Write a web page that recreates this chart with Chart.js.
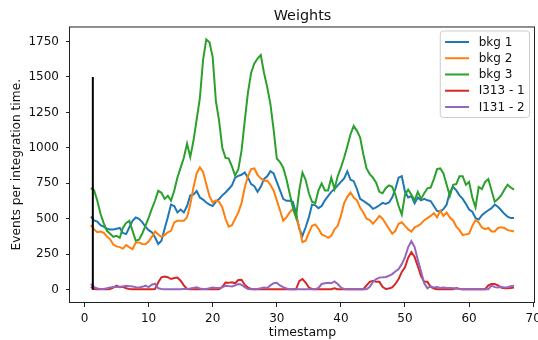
<!DOCTYPE html>
<html>
<head>
<meta charset="utf-8">
<script src="https://cdn.jsdelivr.net/npm/chart.js@4.4.1/dist/chart.umd.min.js"></script>
<style>
  html, body { margin: 0; padding: 0; background: #fff; }
  canvas { display: block; }
</style>
</head>
<body>
<canvas id="chart" width="538" height="340"></canvas>
<script>
// Sample times (x) shared by every series
const timestamps = [
  1, 1.5, 2, 2.5, 3, 3.5, 4, 4.5, 5, 5.5,
  6, 6.5, 7, 7.5, 8, 8.5, 9, 9.5, 10, 10.5,
  11, 11.5, 12, 12.5, 13, 13.5, 14, 14.5, 15, 15.5,
  16, 16.5, 17, 17.5, 18, 18.5, 19, 19.5, 20, 20.5,
  21, 21.5, 22, 22.5, 23, 23.5, 24, 24.5, 25, 25.5,
  26, 26.5, 27, 27.5, 28, 28.5, 29, 29.5, 30, 30.5,
  31, 31.5, 32, 32.5, 33, 33.5, 34, 34.5, 35, 35.5,
  36, 36.5, 37, 37.5, 38, 38.5, 39, 39.5, 40, 40.5,
  41, 41.5, 42, 42.5, 43, 43.5, 44, 44.5, 45, 45.5,
  46, 46.5, 47, 47.5, 48, 48.5, 49, 49.5, 50, 50.5,
  51, 51.5, 52, 52.5, 53, 53.5, 54, 54.5, 55, 55.5,
  56, 56.5, 57, 57.5, 58, 58.5, 59, 59.5, 60, 60.5,
  61, 61.5, 62, 62.5, 63, 63.5, 64, 64.5, 65, 65.5,
  66, 66.5, 67
];

const bkg1 = [
  515, 488, 480, 455, 445, 430, 425, 425, 430, 435,
  400, 392, 440, 486, 509, 500, 476, 445, 420, 405,
  370, 322, 345, 430, 510, 600, 590, 545, 565, 545,
  590, 665, 670, 695, 650, 635, 615, 600, 590, 620,
  640, 665, 685, 710, 735, 790, 803, 810, 826, 790,
  744, 730, 690, 725, 780, 800, 835, 820, 760, 700,
  640, 627, 627, 620, 540, 430, 380, 440, 510, 600,
  595, 575, 590, 630, 660, 690, 710, 735, 760, 785,
  835, 775, 765, 710, 640, 627, 610, 595, 570, 580,
  595, 612, 605, 615, 650, 710, 790, 800, 690, 650,
  660, 610, 650, 630, 640, 630, 625, 590, 555, 550,
  568, 600, 690, 725, 700, 665, 640, 605, 565, 550,
  505, 495, 525, 544, 560, 575, 600, 585, 560, 535,
  515, 505, 505
];

const bkg2 = [
  455, 425, 405, 410, 400, 375, 355, 318, 305, 300,
  290, 315, 298, 286, 333, 333, 322, 320, 340, 372,
  410, 390, 372, 385, 405, 415, 474, 486, 486, 486,
  510, 600, 720, 820, 862, 830, 744, 660, 615, 630,
  620, 580, 500, 445, 455, 500, 545, 610, 720, 800,
  850, 855, 810, 785, 767, 770, 740, 700, 630, 560,
  486, 510, 545, 568, 515, 440, 335, 345, 400, 450,
  460, 430, 390, 380, 365, 380, 425, 450, 520, 610,
  655, 685, 650, 630, 579, 544, 500, 490, 465, 490,
  520, 500, 465, 430, 395, 415, 465, 475, 450, 425,
  410, 440, 450, 465, 490, 505, 520, 540, 510, 556,
  521, 544, 509, 488, 445, 420, 385, 390, 395, 450,
  490, 474, 439, 427, 435, 410, 410, 435, 440, 435,
  420, 415, 410
];

const bkg3 = [
  718, 700, 627, 535, 470, 415, 394, 373, 380, 366,
  437, 470, 485, 415, 345, 352, 394, 450, 507, 570,
  627, 697, 683, 640, 662, 627, 697, 791, 861, 930,
  1030, 935, 1050, 1200, 1350, 1620, 1765, 1745, 1640, 1330,
  1190, 1000, 930, 925, 870, 805, 850, 980, 1190, 1390,
  1530, 1595, 1630, 1655, 1530, 1430, 1310, 1130, 925, 900,
  860, 780, 680, 580, 510, 700, 826, 775, 680, 620,
  610, 700, 750, 700, 700, 790, 710, 800, 860, 930,
  1010, 1096, 1155, 1120, 1072, 955, 855, 815, 790, 755,
  690, 680, 715, 735, 725, 670, 590, 530, 670, 705,
  670, 630, 690, 640, 680, 715, 720, 780, 850, 855,
  820, 740, 660, 740, 745, 800, 800, 740, 760, 650,
  580, 725, 710, 760, 780, 700, 620, 640, 665, 705,
  740, 720, 705
];

const i313 = [
  20, 5, 3, 3, 3, 3, 5, 15, 28, 18,
  20, 10, 5, 3, 3, 3, 3, 3, 3, 3,
  5, 50, 87, 92, 88, 75, 82, 85, 63, 30,
  5, 3, 3, 3, 3, 3, 3, 3, 3, 3,
  3, 20, 50, 48, 52, 45, 68, 70, 35, 15,
  5, 3, 3, 3, 3, 3, 3, 3, 3, 3,
  3, 3, 3, 3, 3, 60, 75, 50, 15, 5,
  3, 3, 3, 3, 3, 3, 10, 3, 3, 3,
  3, 3, 3, 3, 3, 3, 30, 55, 63, 55,
  55, 20, 5, 8, 16, 40, 75, 125, 157, 225,
  265, 230, 165, 95, 55, 55, 20, 8, 3, 3,
  3, 3, 3, 3, 12, 5, 3, 3, 3, 3,
  3, 3, 3, 3, 30, 40, 40, 30, 15, 10,
  10, 12, 15
];

const i131 = [
  40, 18, 8, 5, 5, 10, 16, 18, 18, 21,
  22, 28, 25, 22, 18, 15, 20, 28, 18, 35,
  42, 10, 5, 3, 3, 3, 3, 3, 3, 5,
  5, 8, 12, 16, 8, 5, 5, 10, 15, 12,
  12, 16, 28, 25, 22, 30, 40, 35, 18, 5,
  3, 3, 5, 10, 16, 12, 30, 45, 48, 30,
  18, 8, 3, 3, 3, 3, 3, 3, 3, 3,
  3, 12, 40, 45, 48, 45, 58, 40, 15, 5,
  3, 3, 3, 3, 3, 3, 3, 20, 55, 75,
  85, 87, 90, 98, 110, 128, 146, 180, 230, 300,
  342, 300, 210, 130, 45, 10, 25, 15, 18, 12,
  15, 12, 12, 10, 8, 5, 3, 3, 3, 3,
  3, 3, 3, 3, 3, 28, 18, 15, 20, 15,
  18, 25, 28
];

const seriesLabels = ['bkg 1', 'bkg 2', 'bkg 3', 'I313 - 1', 'I131 - 2'];
const seriesColors = ['#1f77b4', '#ff7f0e', '#2ca02c', '#d62728', '#9467bd'];
const seriesValues = [bkg1, bkg2, bkg3, i313, i131];

// Vertical marker line: one time, from zero up to a fixed height
const markerTime = [1.3, 1.3];
const markerLevel = [0, 1500];

const xTickValues = [0, 10, 20, 30, 40, 50, 60, 70];
const yTickValues = [0, 250, 500, 750, 1000, 1250, 1500, 1750];

const FONT = "'DejaVu Sans', 'Liberation Sans', sans-serif";
const INK = '#111';
Chart.defaults.font.family = FONT;

const datasets = seriesValues.map((vals, k) => ({
  label: seriesLabels[k],
  data: timestamps.map((t, i) => ({ x: t, y: vals[i] })),
  borderColor: seriesColors[k],
  backgroundColor: seriesColors[k],
  borderWidth: 2,
  pointRadius: 0,
  tension: 0,
  fill: false,
  order: seriesValues.length - k + 1,   // later series painted on top
  inLegend: true
}));
datasets.push({
  label: 'marker',
  data: markerTime.map((t, i) => ({ x: t, y: markerLevel[i] })),
  borderColor: '#000',
  borderWidth: 2,
  pointRadius: 0,
  fill: false,
  order: 0,
  inLegend: false
});

// Box around the plotting area
const frame = {
  id: 'frame',
  afterDraw(chart) {
    const { ctx, chartArea: a } = chart;
    ctx.save();
    ctx.strokeStyle = '#222';
    ctx.lineWidth = 1;
    ctx.strokeRect(a.left - 0.5, a.top + 0.5, a.right - a.left, a.bottom - a.top - 1);
    ctx.restore();
  }
};

// Legend in a rounded box at the upper right of the plot
const legendBox = {
  id: 'legendBox',
  afterDraw(chart) {
    const { ctx, chartArea: a } = chart;
    const items = chart.data.datasets.filter(d => d.inLegend);
    const fs = 12;
    ctx.save();
    ctx.font = fs + 'px ' + FONT;
    const pad = 0.4 * fs, handle = 2 * fs, gap = 0.8 * fs, rowH = 16.25;
    const textW = Math.max(...items.map(d => ctx.measureText(d.label).width));
    const w = pad + handle + gap + textW + pad;
    const h = 86.5;
    const x = a.right - 5.5 - w;
    const y = a.top + 4.5;
    ctx.beginPath();
    ctx.roundRect(x, y, w, h, 3);
    ctx.fillStyle = 'rgba(255,255,255,0.8)';
    ctx.fill();
    ctx.strokeStyle = '#cccccc';
    ctx.lineWidth = 1;
    ctx.stroke();
    ctx.textBaseline = 'middle';
    ctx.textAlign = 'left';
    items.forEach((d, i) => {
      const cy = y + 11 + i * rowH;
      ctx.beginPath();
      ctx.moveTo(x + pad, cy);
      ctx.lineTo(x + pad + handle, cy);
      ctx.strokeStyle = d.borderColor;
      ctx.lineWidth = 2;
      ctx.stroke();
      ctx.fillStyle = INK;
      ctx.fillText(d.label, x + pad + handle + gap, cy + 0.5);
    });
    ctx.restore();
  }
};

new Chart(document.getElementById('chart'), {
  type: 'line',
  data: { datasets },
  options: {
    responsive: false,
    animation: false,
    events: [],
    layout: { padding: { left: 0, right: 3, top: 0, bottom: 0 } },
    plugins: {
      legend: { display: false },
      tooltip: { enabled: false },
      title: {
        display: true,
        text: 'Weights',
        fullSize: false,
        color: INK,
        font: { family: FONT, size: 14.4, weight: 'normal' },
        padding: { top: 8, bottom: 1.2 }
      }
    },
    scales: {
      x: {
        type: 'linear',
        min: -2.26,
        max: 70.28,
        afterBuildTicks: s => { s.ticks = xTickValues.map(v => ({ value: v })); },
        afterFit: s => { s.height = 37; s.paddingLeft = 0; s.paddingRight = 0; },
        border: { display: false },
        grid: { drawOnChartArea: false, drawTicks: true, tickLength: 4, color: '#222', lineWidth: 1 },
        ticks: {
          color: INK, font: { family: FONT, size: 12 }, padding: 4.5,
          maxRotation: 0, autoSkip: false, callback: v => String(v)
        },
        title: {
          display: true, text: 'timestamp', color: INK,
          font: { family: FONT, size: 12.5 }, padding: { top: 0, bottom: 0 }
        }
      },
      y: {
        type: 'linear',
        min: -94,
        max: 1856,
        afterBuildTicks: s => { s.ticks = yTickValues.map(v => ({ value: v })); },
        afterFit: s => { s.width = 70; s.paddingTop = 0; s.paddingBottom = 0; },
        border: { display: false },
        grid: { drawOnChartArea: false, drawTicks: true, tickLength: 4, color: '#222', lineWidth: 1 },
        ticks: {
          color: INK, font: { family: FONT, size: 12 }, padding: 7,
          autoSkip: false, callback: v => String(v)
        },
        title: {
          display: true, text: 'Events per integration time.', color: INK,
          font: { family: FONT, size: 12.2 }, padding: { top: 9.3, bottom: 0 }
        }
      }
    }
  },
  plugins: [frame, legendBox]
});
</script>
</body>
</html>
